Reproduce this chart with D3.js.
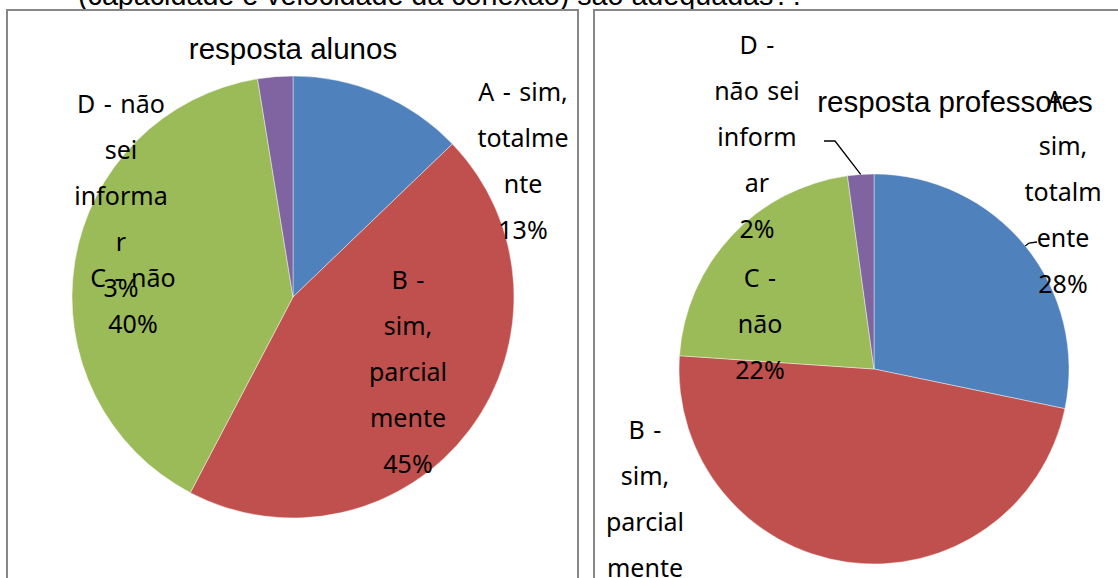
<!DOCTYPE html>
<html>
<head>
<meta charset="utf-8">
<script src="https://cdn.jsdelivr.net/npm/d3@7"></script>
<style>
  body { margin: 0; background: #fff; }
  svg { display: block; }
</style>
</head>
<body>
<div id="chart"></div>
<script>
// data (counts that give the shown percentages)
const categories = ["A - sim, totalmente", "B - sim, parcialmente", "C - não", "D - não sei informar"];
const alunosValues = [10, 35, 31, 2];
const professoresValues = [13, 22, 10, 1];
const colors = ["#4F81BD", "#C0504D", "#9BBB59", "#8064A2"];

// how Excel wrapped the label text in each chart
const alunosLabelLines = [["A - sim,", "totalme", "nte"], ["B -", "sim,", "parcial", "mente"], ["C - não"], ["D - não", "sei", "informa", "r"]];
const professoresLabelLines = [["A -", "sim,", "totalm", "ente"], ["B -", "sim,", "parcial", "mente"], ["C -", "não"], ["D -", "não sei", "inform", "ar"]];

const W = 1118, H = 578;
const svg = d3.select("#chart").append("svg")
    .attr("width", W)
    .attr("height", H);

// cut off question text at top
svg.append("text")
    .attr("x", 78)
    .attr("y", 5)
    .attr("font-family", "Liberation Sans, Arial, sans-serif")
    .attr("font-size", "28.7px")
    .attr("fill", "#000")
    .text("(capacidade e velocidade da conexão) são adequadas??");

const pct = d3.format(".0%");
const lineH = 46;

function drawPie(opts) {
  const g = svg.append("g");

  // chart box
  g.append("rect")
      .attr("x", opts.box[0]).attr("y", opts.box[1])
      .attr("width", opts.box[2]).attr("height", opts.box[3])
      .attr("fill", "#fff")
      .attr("stroke", "#878787")
      .attr("stroke-width", 2);

  const total = d3.sum(opts.values);
  const pie = d3.pie().sort(null).value(d => d.value);
  const arcs = pie(opts.values.map((v, i) => ({value: v, cat: categories[i], i: i})));
  const arc = d3.arc().innerRadius(0).outerRadius(opts.r);

  const pg = g.append("g").attr("transform", `translate(${opts.cx},${opts.cy})`);
  pg.selectAll("path")
    .data(arcs)
    .join("path")
      .attr("d", arc)
      .attr("fill", d => colors[d.data.i])
      .attr("stroke", "#fff")
      .attr("stroke-opacity", 0.6)
      .attr("stroke-width", 0.7);

  // title
  g.append("text")
      .attr("x", opts.titlePos[0])
      .attr("y", opts.titlePos[1])
      .attr("text-anchor", "middle")
      .attr("font-family", "Liberation Sans, Arial, sans-serif")
      .attr("font-size", "29.5px")
      .text(opts.title);

  // leader lines
  opts.leaders.forEach(l => {
    const d = arcs[l.i];
    const a = (d.startAngle + d.endAngle) / 2;
    const px = opts.cx + opts.r * Math.sin(a), py = opts.cy - opts.r * Math.cos(a);
    g.append("path")
        .attr("d", `M${l.from[0]},${l.from[1]}` + (l.knee ? `L${l.knee[0]},${l.knee[1]}` : "") + `L${px},${py}`)
        .attr("fill", "none")
        .attr("stroke", "#000")
        .attr("stroke-width", 1.3);
  });

  // data labels
  arcs.forEach((d, i) => {
    const lines = opts.labelLines[i].concat([pct(d.value / total)]);
    const t = g.append("text")
        .attr("text-anchor", "middle")
        .attr("font-family", "Noto Sans, sans-serif")
        .attr("font-size", "25px")
        .attr("word-spacing", "2px")
        .attr("fill", "#000");
    lines.forEach((s, k) => {
      t.append("tspan")
          .attr("x", opts.labelPos[i][0])
          .attr("y", opts.labelPos[i][1] + k * lineH)
          .text(s);
    });
  });
}

drawPie({
  box: [7, 10, 571, 600],
  cx: 293, cy: 297, r: 221,
  values: alunosValues,
  title: "resposta alunos",
  titlePos: [293, 59],
  labelLines: alunosLabelLines,
  labelPos: [[523, 101], [408, 289], [133, 287], [121, 113]],
  leaders: []
});

drawPie({
  box: [594, 10, 600, 600],
  cx: 874, cy: 369, r: 195,
  values: professoresValues,
  title: "resposta professores",
  titlePos: [955, 112],
  labelLines: professoresLabelLines,
  labelPos: [[1063, 109], [645, 439], [760, 287], [757, 54]],
  leaders: [
    {i: 3, from: [824, 141], knee: [835, 141]},
    {i: 0, from: [1037, 242], knee: [1029, 243]}
  ]
});
</script>
</body>
</html>
